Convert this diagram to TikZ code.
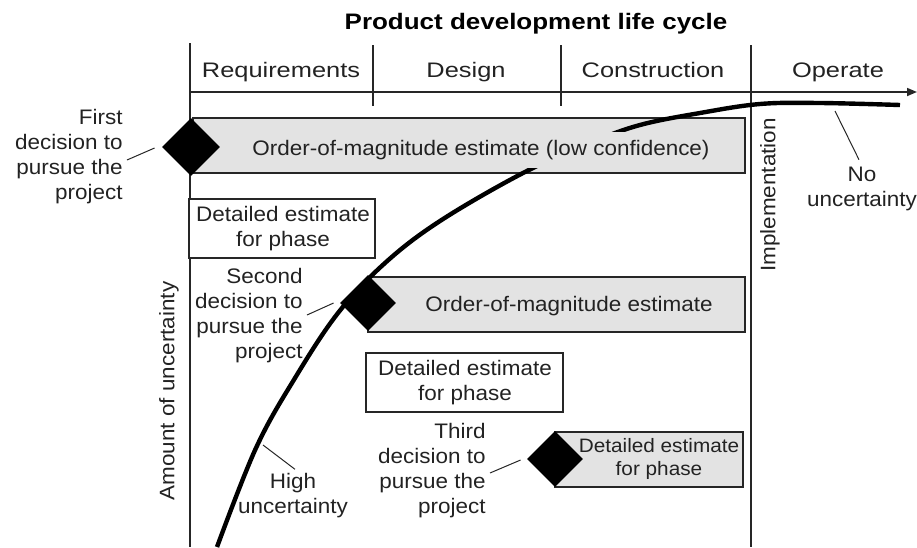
\documentclass[tikz,border=0pt]{standalone}
\usepackage{fontspec}
\setmainfont{Liberation Sans}
\newfontfamily\bodyfont[FakeStretch=1.07]{Liberation Sans}
\newfontfamily\phasefont[FakeStretch=1.21]{Liberation Sans}
\newfontfamily\titlefont[FakeStretch=1.16]{Liberation Sans}
\usetikzlibrary{shapes.geometric,arrows.meta,calc}
\definecolor{ink}{HTML}{222222}
\definecolor{estgray}{HTML}{E3E3E3}
\tikzset{
  txt/.style={inner sep=0pt, text=ink, font=\bodyfont\fontsize{10.5}{12.5}\selectfont},
  smalltxt/.style={inner sep=0pt, text=ink, font=\bodyfont\fontsize{9.7}{11.5}\selectfont},
  phase/.style={inner sep=0pt, anchor=base, text=ink, font=\phasefont\fontsize{10.5}{12.5}\selectfont},
  heading/.style={inner sep=0pt, anchor=base, text=black, font=\titlefont\bfseries\fontsize{11.2}{13}\selectfont},
  rule/.style={line width=0.75pt, draw=black!85},
  estbox/.style={rectangle, draw=black!85, line width=1pt, fill=estgray, inner sep=0pt},
  planbox/.style={rectangle, draw=black!85, line width=1pt, fill=white, inner sep=0pt},
  gate/.style={diamond, aspect=1, fill=black, inner sep=0pt, minimum size=29pt},
  leader/.style={line width=0.5pt, draw=black!85},
  curve/.style={line width=2.2pt, line join=round},
}
\begin{document}
\begin{tikzpicture}[x=0.5pt, y=-0.5pt]
\useasboundingbox (0,0) rectangle (917,547);

% title and phase axis
\node[heading] (title) at (536,29) {Product development life cycle};
\draw[rule] (190,43) -- (190,547);
\draw[rule] (373,45) -- (373,106);
\draw[rule] (561,45) -- (561,106);
\draw[rule] (751,45) -- (751,547);
\draw[rule, line width=0.85pt, -{Triangle[length=5pt, width=4pt]}] (190,92) -- (917,92);
\node[phase] (req) at (281,77) {Requirements};
\node[phase] (des) at (466,77) {Design};
\node[phase] (con) at (653,77) {Construction};
\node[phase] (ope) at (838,77) {Operate};

% estimate bars
\node[estbox, minimum width=276pt, minimum height=27.5pt] (bar1) at (469,145.5) {};
\node[planbox, minimum width=93pt, minimum height=29.5pt] (planA) at (282,228.5) {};
\node[estbox, minimum width=188.5pt, minimum height=27.5pt] (bar2) at (556.5,304.5) {};
\node[planbox, minimum width=98.5pt, minimum height=29.5pt] (planB) at (464.5,382.5) {};
\node[estbox, minimum width=94pt, minimum height=27.5pt] (bar3) at (649,459.5) {};

% uncertainty curve
\draw[curve] plot[smooth, tension=0.6] coordinates {
  (217,547) (256,448) (295,378) (338,313) (385,263) (440,221) (523,173)
  (590,143) (640,125) (700,113) (760,104) (820,103) (900,105)};

% bar texts
\node[txt, fill=estgray, inner xsep=1pt, inner ysep=4pt] (t1) at (481,150)
  {Order-of-magnitude estimate (low confidence)};
\node[txt, align=center] (tA) at (283,229) {Detailed estimate\\for phase};
\node[txt] (t2) at (569,306) {Order-of-magnitude estimate};
\node[txt, align=center] (tB) at (465,383) {Detailed estimate\\for phase};
\node[smalltxt, align=center] (t3) at (659,459) {Detailed estimate\\for phase};

% decision points
\node[gate] (g1) at (191,147) {};
\node[gate, minimum size=28pt] (g2) at (368,303) {};
\node[gate, minimum size=28pt] (g3) at (555,459) {};

% labels
\node[txt, align=right, anchor=east] (lab1) at (123,157) {First\\decision to\\pursue the\\project};
\node[txt, align=right, anchor=east] (lab2) at (303,316) {Second\\decision to\\pursue the\\project};
\node[txt, align=right, anchor=east] (lab3) at (486,471) {Third\\decision to\\pursue the\\project};
\node[txt, align=center] (high) at (293,496) {High\\uncertainty};
\node[txt, align=center] (noun) at (862,189) {No\\uncertainty};
\node[txt, rotate=90] (impl) at (770,195) {Implementation};
\node[txt, rotate=90] (amount) at (169,391) {Amount of uncertainty};

% leaders
\coordinate (hiPt) at (263,445);
\coordinate (flatPt) at (835,111);
\draw[leader] ($(lab1.east)+(4,3)$) -- ($(g1.west)+(-7,1)$);
\draw[leader] ($(lab2.east)+(4,-1)$) -- ($(g2.west)+(-6,0)$);
\draw[leader] ($(lab3.east)+(4,2)$) -- ($(g3.west)+(-6,1)$);
\draw[leader] (hiPt) -- ($(high.north)+(2,-4)$);
\draw[leader] (flatPt) -- ($(noun.north)+(-3,-7)$);
\end{tikzpicture}
\end{document}
